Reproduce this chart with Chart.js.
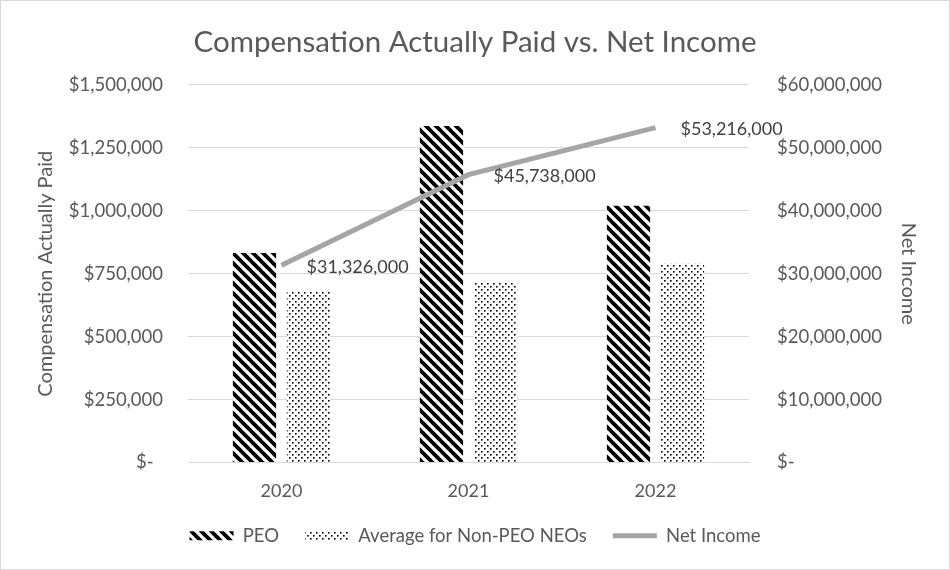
<!DOCTYPE html>
<html>
<head>
<meta charset="utf-8">
<script src="https://cdn.jsdelivr.net/npm/chart.js@4"></script>
<style>
  html, body { margin: 0; padding: 0; background: #fff; }
  #wrap { position: relative; width: 948px; height: 568px; border: 1px solid #d9d9d9; }
</style>
</head>
<body>
<div id="wrap"><canvas id="c" width="948" height="568"></canvas></div>
<script>
const years = ['2020', '2021', '2022'];
const peoCAP = [832000, 1337000, 1020000];
const nonPeoCAP = [680000, 716000, 790000];
const netIncome = [31326000, 45738000, 53216000];
const leftTicks = [0, 250000, 500000, 750000, 1000000, 1250000, 1500000];
const rightTicks = [0, 10000000, 20000000, 30000000, 40000000, 50000000, 60000000];

const FONT = 'Lato, "Open Sans", sans-serif';
const TEXT = '#595959';

function stripePattern() {
  const s = 10;
  const cv = document.createElement('canvas');
  cv.width = s; cv.height = s;
  const g = cv.getContext('2d');
  g.fillStyle = '#fff'; g.fillRect(0, 0, s, s);
  g.strokeStyle = '#000'; g.lineWidth = 3.8;
  g.beginPath();
  for (let k = -1; k <= 1; k++) {
    g.moveTo(k * s - 1, -1); g.lineTo(k * s + s + 1, s + 1);
  }
  g.stroke();
  return g.createPattern(cv, 'repeat');
}
function dotPattern() {
  const cv = document.createElement('canvas');
  cv.width = 6; cv.height = 6;
  const g = cv.getContext('2d');
  g.fillStyle = '#fff'; g.fillRect(0, 0, 6, 6);
  g.fillStyle = '#000';
  g.fillRect(0, 0, 1.6, 1.6);
  g.fillRect(3, 3, 1.6, 1.6);
  return g.createPattern(cv, 'repeat');
}
function money(v) {
  if (v === 0) return '$-  ';
  return '$' + v.toLocaleString('en-US');
}

const lineLabels = {
  id: 'lineLabels',
  afterDatasetsDraw(chart) {
    const meta = chart.getDatasetMeta(2);
    const ctx = chart.ctx;
    ctx.save();
    ctx.font = '18px ' + FONT;
    ctx.fillStyle = '#404040';
    ctx.textAlign = 'left';
    ctx.textBaseline = 'middle';
    meta.data.forEach((pt, i) => {
      ctx.fillText('$' + netIncome[i].toLocaleString('en-US'), pt.x + 25, pt.y + 2);
    });
    ctx.restore();
  }
};

const chart = new Chart(document.getElementById('c'), {
  data: {
    labels: years,
    datasets: [
      { type: 'bar', label: 'PEO', data: peoCAP, backgroundColor: stripePattern(), borderWidth: 0,
        yAxisID: 'y', order: 2, categoryPercentage: 0.578, barPercentage: 0.8 },
      { type: 'bar', label: 'Average for Non-PEO NEOs', data: nonPeoCAP, backgroundColor: dotPattern(), borderWidth: 0,
        yAxisID: 'y', order: 2, categoryPercentage: 0.578, barPercentage: 0.8 },
      { type: 'line', label: 'Net Income', data: netIncome, borderColor: '#a5a5a5', backgroundColor: '#a5a5a5',
        borderWidth: 5, pointRadius: 0, tension: 0, yAxisID: 'y1', order: 1 }
    ]
  },
  options: {
    responsive: false,
    animation: false,
    devicePixelRatio: 1,
    layout: { padding: { left: 0, right: 0, top: 0, bottom: 14 } },
    plugins: {
      title: {
        display: true, text: 'Compensation Actually Paid vs. Net Income',
        color: TEXT, font: { family: FONT, size: 29.5, weight: 'normal' },
        padding: { top: 24, bottom: 24.5 }
      },
      legend: {
        position: 'bottom',
        labels: {
          color: TEXT, font: { family: FONT, size: 18.5 },
          usePointStyle: true, pointStyleWidth: 44, boxHeight: 9, padding: 26,
          sort: (a, b) => a.datasetIndex - b.datasetIndex,
          generateLabels(chart) {
            const items = Chart.defaults.plugins.legend.labels.generateLabels(chart);
            items.forEach(it => {
              if (it.datasetIndex < 2) { it.pointStyle = 'rect'; it.lineWidth = 0; it.strokeStyle = 'rgba(0,0,0,0)'; }
              else { it.pointStyle = 'line'; it.lineWidth = 5; it.strokeStyle = '#a5a5a5'; }
            });
            return items;
          }
        }
      },
      tooltip: { enabled: false }
    },
    scales: {
      x: {
        afterFit(s) { s.height = 38; },
        grid: { display: false, drawTicks: false },
        border: { display: true, color: '#d9d9d9', width: 1 },
        ticks: { color: TEXT, font: { family: FONT, size: 18 }, padding: 18 }
      },
      y: {
        position: 'left', min: 0, max: 1500000,
        afterFit(s) { s.width = 187; },
        afterBuildTicks(s) { s.ticks = leftTicks.map(v => ({ value: v })); },
        grid: { color: '#d9d9d9', drawTicks: false },
        border: { display: false },
        ticks: { color: TEXT, font: { family: FONT, size: 18.5 }, padding: 25, callback: v => money(v) },
        title: { display: true, text: 'Compensation Actually Paid', color: TEXT,
          font: { family: FONT, size: 20 }, padding: { top: 33, bottom: 0 } }
      },
      y1: {
        position: 'right', min: 0, max: 60000000,
        afterFit(s) { s.width = 200; },
        afterBuildTicks(s) { s.ticks = rightTicks.map(v => ({ value: v })); },
        grid: { display: false, drawTicks: false },
        border: { display: false },
        ticks: { color: TEXT, font: { family: FONT, size: 18.5 }, padding: 28,
          callback: v => (v === 0 ? '$-' : money(v)) },
        title: { display: true, text: 'Net Income', color: TEXT,
          font: { family: FONT, size: 20 }, padding: { top: 29, bottom: 0 } }
      }
    }
  },
  plugins: [lineLabels]
});
</script>
</body>
</html>
